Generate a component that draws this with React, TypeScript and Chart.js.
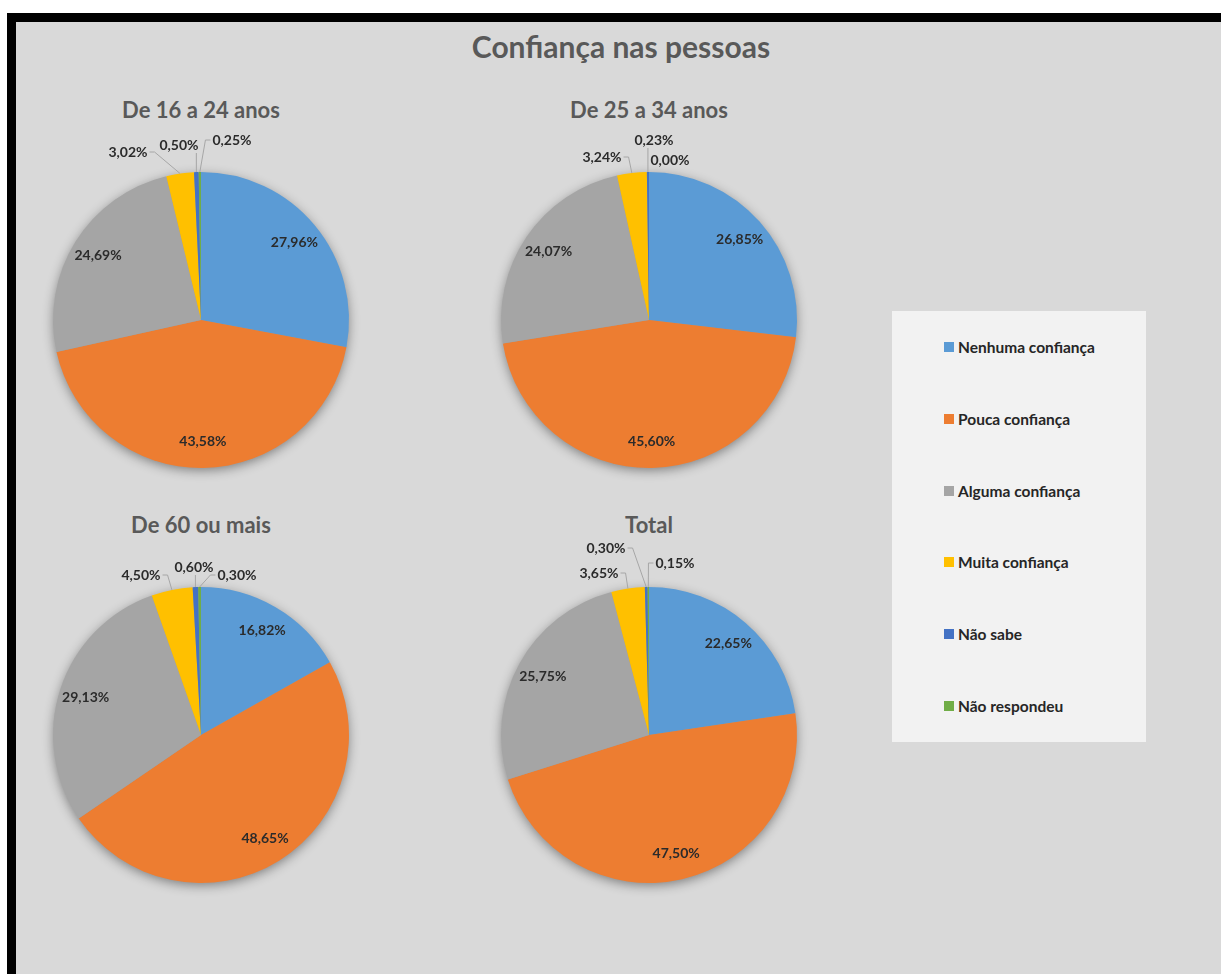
import React, { useEffect, useRef } from "react";
import { Chart, registerables } from "chart.js";

Chart.register(...registerables);

// ---------- data ----------
const CHART_TITLE = "Confiança nas pessoas";
const CATEGORIES = [
  "Nenhuma confiança",
  "Pouca confiança",
  "Alguma confiança",
  "Muita confiança",
  "Não sabe",
  "Não respondeu",
];
const GROUP_TITLES = ["De 16 a 24 anos", "De 25 a 34 anos", "De 60 ou mais", "Total"];
const AGE_16_24 = [27.96, 43.58, 24.69, 3.02, 0.5, 0.25];
const AGE_25_34 = [26.85, 45.6, 24.07, 3.24, 0.23, 0.0];
const AGE_60_MAIS = [16.82, 48.65, 29.13, 4.5, 0.6, 0.3];
const TOTAL = [22.65, 47.5, 25.75, 3.65, 0.3, 0.15];

// ---------- styles / layout ----------
const COLORS = ["#5B9BD5", "#ED7D31", "#A5A5A5", "#FFC000", "#4472C4", "#70AD47"];
const FONT = "Lato, 'Open Sans', sans-serif";
const LABEL_FONT = `bold 14px ${FONT}`;
const BG = "#D9D9D9";
const CANVAS = 400;
const PAD = 52;
// pie centres on the page
const PIE_CENTERS = [
  [201, 320],
  [649, 320],
  [201, 735],
  [649, 735],
];
// placement of labels for the small slices (Muita, Não sabe, Não respondeu), px from pie centre
const OUTSIDE_LABELS = [
  [[-73, -168], [-22, -175], [31, -180]],
  [[-47, -163], [5, -180], [21, -160]],
  [[-60, -160], [-7, -168], [36, -160]],
  [[-50, -162], [-43, -187], [26, -172]],
];

const fmt = (v: number) => v.toFixed(2).replace(".", ",") + "%";

function PieChart({ values, outside, cx, cy }: { values: number[]; outside: number[][]; cx: number; cy: number }) {
  const ref = useRef<HTMLCanvasElement | null>(null);
  useEffect(() => {
    if (!ref.current) return;
    const shadowPlugin = {
      id: "pieShadow",
      beforeDatasetsDraw(chart: any) {
        const arc = chart.getDatasetMeta(0).data[0];
        if (!arc) return;
        const ctx = chart.ctx;
        ctx.save();
        ctx.beginPath();
        ctx.arc(arc.x, arc.y, arc.outerRadius - 1, 0, Math.PI * 2);
        ctx.fillStyle = "#9a9a9a";
        ctx.shadowColor = "rgba(0,0,0,0.45)";
        ctx.shadowBlur = 12;
        ctx.shadowOffsetX = 0;
        ctx.shadowOffsetY = 3;
        ctx.fill();
        ctx.restore();
      },
    };
    const labelPlugin = {
      id: "pieLabels",
      afterDatasetsDraw(chart: any) {
        const ctx = chart.ctx;
        const meta = chart.getDatasetMeta(0);
        ctx.save();
        ctx.font = LABEL_FONT;
        ctx.fillStyle = "#2b2b2b";
        ctx.textAlign = "center";
        ctx.textBaseline = "middle";
        meta.data.forEach((arc: any, i: number) => {
          const v = values[i];
          const text = fmt(v);
          const mid = (arc.startAngle + arc.endAngle) / 2;
          const r = arc.outerRadius;
          if (v >= 5) {
            const lx = arc.x + Math.cos(mid) * r * 0.82;
            const ly = arc.y + Math.sin(mid) * r * 0.82;
            ctx.fillText(text, lx, ly);
            return;
          }
          const off = outside[i - 3];
          if (!off) return;
          const lx = arc.x + off[0];
          const ly = arc.y + off[1];
          const hw = ctx.measureText(text).width / 2;
          const hh = 7;
          if (v > 0) {
            const ax = arc.x + Math.cos(mid) * r;
            const ay = arc.y + Math.sin(mid) * r;
            ctx.beginPath();
            ctx.strokeStyle = "#A6A6A6";
            ctx.lineWidth = 1;
            ctx.moveTo(ax, ay);
            if (ax < lx - hw) {
              ctx.lineTo(lx - hw - 7, ly);
              ctx.lineTo(lx - hw - 2, ly);
            } else if (ax > lx + hw) {
              ctx.lineTo(lx + hw + 7, ly);
              ctx.lineTo(lx + hw + 2, ly);
            } else {
              ctx.lineTo(ax, ly + hh + 1);
            }
            ctx.stroke();
          }
          ctx.fillText(text, lx, ly);
        });
        ctx.restore();
      },
    };
    const chart = new Chart(ref.current, {
      type: "pie",
      data: {
        labels: CATEGORIES,
        datasets: [
          {
            data: values,
            backgroundColor: COLORS,
            borderWidth: 0,
            hoverOffset: 0,
          },
        ],
      },
      options: {
        responsive: false,
        animation: false,
        devicePixelRatio: 1,
        layout: { padding: PAD },
        plugins: {
          legend: { display: false },
          tooltip: { enabled: false },
          title: { display: false },
        },
      },
      plugins: [shadowPlugin, labelPlugin],
    } as any);
    let alive = true;
    if ((document as any).fonts && (document as any).fonts.load) {
      (document as any).fonts
        .load(LABEL_FONT)
        .then(() => {
          if (alive) chart.draw();
        })
        .catch(() => {});
    }
    return () => {
      alive = false;
      chart.destroy();
    };
  }, [values, outside]);
  return (
    <canvas
      ref={ref}
      width={CANVAS}
      height={CANVAS}
      style={{ position: "absolute", left: cx - CANVAS / 2, top: cy - CANVAS / 2, width: CANVAS, height: CANVAS }}
    />
  );
}

export default function App() {
  const series = [AGE_16_24, AGE_25_34, AGE_60_MAIS, TOTAL];
  return (
    <div style={{ position: "absolute", left: 0, top: 0, width: 1221, height: 974, background: "#fff", overflow: "hidden", fontFamily: FONT }}>
      <div
        style={{
          position: "absolute",
          left: 7,
          top: 13,
          width: 1214,
          height: 961,
          boxSizing: "border-box",
          background: BG,
          borderTop: "9px solid #000",
          borderLeft: "9px solid #000",
        }}
      />
      <div
        style={{
          position: "absolute",
          left: 321,
          width: 600,
          top: 27,
          textAlign: "center",
          fontSize: 30,
          fontWeight: 700,
          color: "#595959",
          lineHeight: "38px",
        }}
      >
        {CHART_TITLE}
      </div>
      {GROUP_TITLES.map((t, i) => (
        <div
          key={t}
          style={{
            position: "absolute",
            left: PIE_CENTERS[i][0] - 150,
            width: 300,
            top: PIE_CENTERS[i][1] - 225,
            textAlign: "center",
            fontSize: 22,
            fontWeight: 700,
            color: "#595959",
            lineHeight: "30px",
          }}
        >
          {t}
        </div>
      ))}
      {series.map((vals, i) => (
        <PieChart key={i} values={vals} outside={OUTSIDE_LABELS[i]} cx={PIE_CENTERS[i][0]} cy={PIE_CENTERS[i][1]} />
      ))}
      <div style={{ position: "absolute", left: 892, top: 311, width: 254, height: 431, background: "#F2F2F2" }}>
        {CATEGORIES.map((c, i) => (
          <div
            key={c}
            style={{
              position: "absolute",
              left: 52,
              top: 36 + i * 71.8 - 10,
              height: 20,
              display: "flex",
              alignItems: "center",
              fontSize: 15.5,
              fontWeight: 700,
              color: "#262626",
              whiteSpace: "nowrap",
            }}
          >
            <span style={{ display: "inline-block", width: 10, height: 10, background: COLORS[i], marginRight: 4 }} />
            {c}
          </div>
        ))}
      </div>
    </div>
  );
}
